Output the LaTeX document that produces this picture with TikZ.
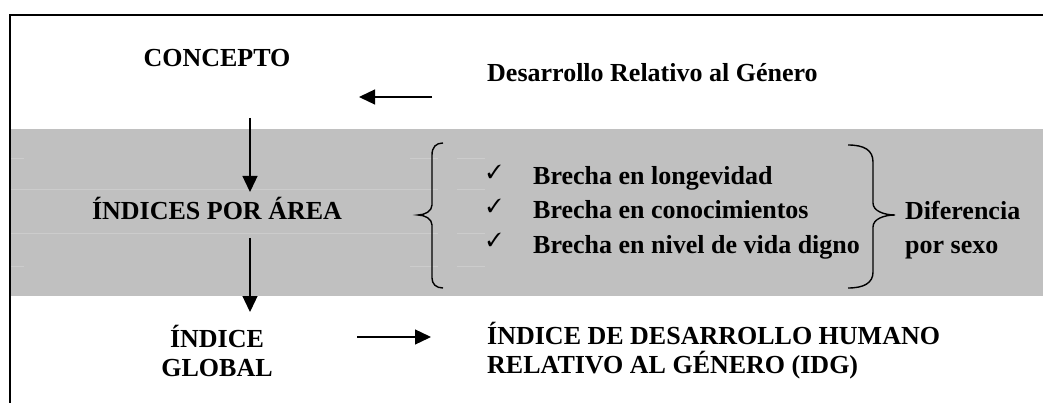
\documentclass[tikz,border=0pt]{standalone}
\usepackage{fontspec}
\usepackage{pifont}
\setmainfont{Liberation Serif}
\usetikzlibrary{arrows.meta}
\definecolor{band}{HTML}{C0C0C0}
\definecolor{bandline}{HTML}{CCCCCC}
\begin{document}
\begin{tikzpicture}[x=1pt,y=-1pt,
  lbl/.style={font=\fontsize{26}{29}\selectfont\bfseries, inner sep=0pt},
  chk/.style={font=\fontsize{19}{22}\selectfont, inner sep=0pt},
  conn/.style={line width=1.3pt, -{Triangle[length=16pt,width=15pt]}},
  framestyle/.style={line width=2pt, line cap=rect},
  cellline/.style={line width=1pt, draw=bandline},
  bracestyle/.style={line width=1.4pt}]
\useasboundingbox (0,0) rectangle (1043,403);
% frame and band
\fill[band] (11,129) rectangle (1043,296);
\draw[framestyle] (1043,15) -- (10,15) -- (10,403);
% faint table lines
\foreach \yy in {190,234}{\draw[cellline] (11,\yy) -- (438,\yy); \draw[cellline] (457,\yy) -- (485,\yy);}
\foreach \yy in {159,266}{\draw[cellline] (11,\yy) -- (24,\yy); \draw[cellline] (410,\yy) -- (438,\yy); \draw[cellline] (457,\yy) -- (485,\yy);}
% texts
\node[lbl, anchor=base] (concept) at (217,67) {CONCEPTO};
\node[lbl, anchor=base west] (desarrollo) at (487,82) {Desarrollo Relativo al Género};
\node[lbl, anchor=base] (indices) at (217,220) {ÍNDICES POR ÁREA};
\node[chk, anchor=base west] (c1) at (487,179) {\ding{51}};
\node[chk, anchor=base west] (c2) at (487,213) {\ding{51}};
\node[chk, anchor=base west] (c3) at (487,247) {\ding{51}};
\node[lbl, anchor=base west] (b1) at (533,185) {Brecha en longevidad};
\node[lbl, anchor=base west] (b2) at (533,219) {Brecha en conocimientos};
\node[lbl, anchor=base west] (b3) at (533,253) {Brecha en nivel de vida digno};
\node[lbl, anchor=base west] (dif) at (905,220) {Diferencia};
\node[lbl, anchor=base west] (sexo) at (905,253) {por sexo};
\node[lbl, anchor=base] (ig1) at (217,347) {ÍNDICE};
\node[lbl, anchor=base] (ig2) at (217,376) {GLOBAL};
\node[lbl, anchor=base west] (idg1) at (487,344) {ÍNDICE DE DESARROLLO HUMANO};
\node[lbl, anchor=base west] (idg2) at (487,373) {RELATIVO AL GÉNERO (IDG)};
% connectors
\coordinate (l1s) at (432,97); \coordinate (l1e) at (359,97);
\coordinate (d1s) at (250,118); \coordinate (d1e) at (250,192);
\coordinate (d2s) at (250,238); \coordinate (d2e) at (250,312);
\coordinate (r1s) at (357,337); \coordinate (r1e) at (431,337);
\draw[conn] (l1s) -- (l1e);
\draw[conn] (d1s) -- (d1e);
\draw[conn] (d2s) -- (d2e);
\draw[conn] (r1s) -- (r1e);
% braces
\draw[bracestyle] (443,143) .. controls (436,143) and (432,147) .. (432,155) -- (432,205)
  .. controls (432,211) and (425,215) .. (418,215)
  .. controls (425,215) and (432,219) .. (432,225) -- (432,278)
  .. controls (432,284) and (436,288) .. (443,288);
\draw[bracestyle] (848,145) .. controls (864,145) and (873,150) .. (873,162) -- (873,203)
  .. controls (873,211) and (884,215) .. (895,215)
  .. controls (884,215) and (873,219) .. (873,227) -- (873,272)
  .. controls (873,283) and (864,288) .. (848,288);
\end{tikzpicture}
\end{document}
